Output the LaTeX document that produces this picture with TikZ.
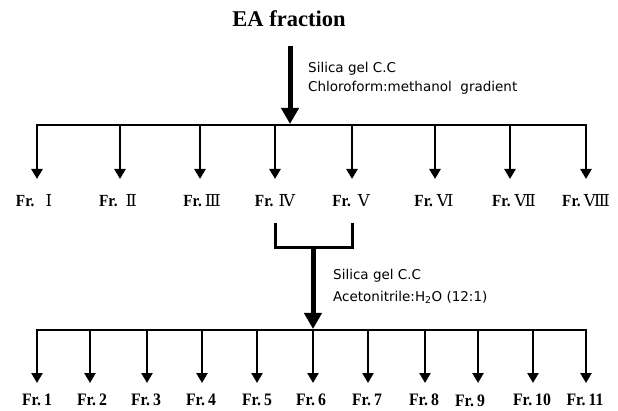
\documentclass[tikz,border=0pt]{standalone}
\usepackage{fontspec}
\setmainfont{Liberation Serif}
\newfontfamily\frfont[FakeStretch=0.9]{Liberation Serif}
\newfontfamily\numfont{DejaVu Serif}
\newfontfamily\labfont{DejaVu Sans}
\usetikzlibrary{arrows.meta}
\newcommand{\rnum}[1]{{\mdseries\numfont\fontsize{16.5}{16.5}\selectfont #1}}
\begin{document}
\begin{tikzpicture}[x=1pt,y=-1pt,
  bar/.style={line width=3pt},
  drop/.style={line width=2.6pt,-{Triangle[length=10pt,width=11pt]}},
  mainarrow/.style={line width=5pt,-{Triangle[length=16pt,width=17pt]}},
  frtop/.style={font=\frfont\bfseries\fontsize{17}{17}\selectfont,inner sep=0pt,anchor=base},
  frbot/.style={font=\frfont\bfseries\fontsize{17.5}{17.5}\selectfont,inner sep=0pt,anchor=base},
  note/.style={font=\labfont\fontsize{13.5}{14}\selectfont,anchor=west,inner sep=0pt}]
\useasboundingbox (0,0) rectangle (618,411);

% title
\node[font=\bfseries\fontsize{22.5}{22.5}\selectfont,inner sep=0pt] (ea) at (289,19) {EA fraction};
\coordinate (a1s) at (290,46);
\coordinate (a1e) at (290,124);
\draw[mainarrow] (a1s) -- (a1e);
\node[note] (n1) at (308,69) {Silica gel C.C};
\node[note] (n2) at (308,88) {Chloroform:methanol\ \ gradient};

% first level
\coordinate (b1l) at (37,125);
\coordinate (b1r) at (586,125);
\foreach \x/\n in {37/1,120/2,200/3,275/4,352/5,435/6,510/7,586/8}{
  \coordinate (t\n) at (\x,179);
  \coordinate (s\n) at (\x,125);
}
\draw[line width=2.6pt,{Triangle[length=10pt,width=11pt]}-{Triangle[length=10pt,width=11pt]}] (t1) -- (b1l) -- (b1r) -- (t8);
\foreach \n in {2,...,7}{
  \draw[drop] (s\n) -- (t\n);
}
\node[frtop] (f1) at (34,207) {Fr.\hspace{11pt}\rnum{Ⅰ}};
\node[frtop] (f2) at (118,207) {Fr.\hspace{8pt}\rnum{Ⅱ}};
\node[frtop] (f3) at (202,207) {Fr.\hspace{3pt}\rnum{Ⅲ}};
\node[frtop] (f4) at (275,207) {Fr.\hspace{5pt}\rnum{Ⅳ}};
\node[frtop] (f5) at (351,207) {Fr.\hspace{7pt}\rnum{Ⅴ}};
\node[frtop] (f6) at (434,207) {Fr.\hspace{4pt}\rnum{Ⅵ}};
\node[frtop] (f7) at (514,207) {Fr.\hspace{4pt}\rnum{Ⅶ}};
\node[frtop] (f8) at (586,207) {Fr.\hspace{3pt}\rnum{Ⅷ}};

% bracket combining IV and V
\coordinate (c4) at (275,223);
\coordinate (c5) at (352,223);
\coordinate (c4b) at (275,248);
\coordinate (c5b) at (352,248);
\draw[bar] (c4) -- (c4b) -- (c5b) -- (c5);
\coordinate (a2s) at (313,248);
\coordinate (a2e) at (313,329);
\draw[mainarrow] (a2s) -- (a2e);
\node[note] (n3) at (333,276) {Silica gel C.C};
\node[note] (n4) at (333,297) {Acetonitrile:H\textsubscript{2}O (12:1)};

% second level
\coordinate (b2l) at (37,330);
\coordinate (b2r) at (586,330);
\foreach \x/\n in {37/1,90/2,147/3,202/4,257/5,313/6,368/7,425/8,478/9,533/10,586/11}{
  \coordinate (u\n) at (\x,383);
  \coordinate (v\n) at (\x,330);
}
\draw[line width=2.6pt,{Triangle[length=10pt,width=11pt]}-{Triangle[length=10pt,width=11pt]}] (u1) -- (b2l) -- (b2r) -- (u11);
\foreach \n in {2,...,10}{
  \draw[drop] (v\n) -- (u\n);
}
\foreach \x/\n in {37/1,92/2,146/3,201/4,257/5,311/6,367/7,424/8,532/10,585/11}{
  \node[frbot] (g\n) at (\x,405) {Fr.\,\n};
}
\node[frbot] (g9) at (470,406.5) {Fr.\,9};
\end{tikzpicture}
\end{document}
